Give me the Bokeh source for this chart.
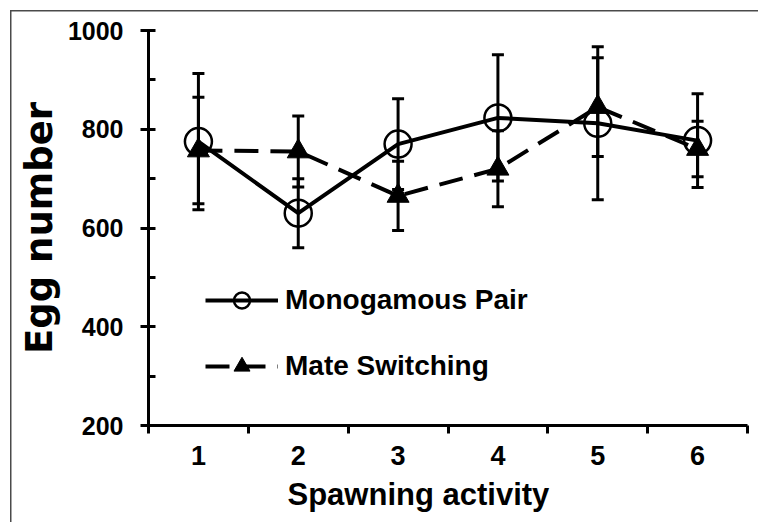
from bokeh.plotting import figure
from bokeh.models import (ColumnDataSource, Range1d, FixedTicker, Whisker, TeeHead,
                          Legend, LegendItem, Title)
from bokeh.embed import file_html
from bokeh.resources import INLINE

# ---- data ----
activity = [1, 2, 3, 4, 5, 6]
tick_labels = ["1", "2", "3", "4", "5", "6"]
mono_mean = [775, 630, 770, 823, 812, 777]
mono_err = [138, 70, 92, 128, 155, 95]
mate_mean = [757, 755, 665, 720, 845, 760]
mate_err = [108, 72, 70, 77, 100, 56]
y_ticks = [200, 400, 600, 800, 1000]
y_minor = [300, 500, 700, 900]

mono_src = ColumnDataSource(dict(
    x=activity, y=mono_mean,
    up=[m + e for m, e in zip(mono_mean, mono_err)],
    lo=[m - e for m, e in zip(mono_mean, mono_err)]))
mate_src = ColumnDataSource(dict(
    x=activity, y=mate_mean,
    up=[m + e for m, e in zip(mate_mean, mate_err)],
    lo=[m - e for m, e in zip(mate_mean, mate_err)]))

p = figure(width=758, height=522, output_backend="svg", toolbar_location=None,
           x_range=Range1d(0.5, 6.5), y_range=Range1d(200, 1000),
           min_border_left=148, min_border_right=11, min_border_top=30,
           min_border_bottom=97)
p.border_fill_color = None
p.background_fill_color = None
p.outline_line_color = None
p.grid.visible = False
p.styles = {"box-shadow": "inset 10px 10px 0 0 #ffffff, inset 11.5px 11.5px 0 0 #4a4a4a"}

FONT = "Liberation Sans"

# ---- x axis ----
xa = p.xaxis[0]
xa.ticker = FixedTicker(ticks=activity, minor_ticks=[0.5, 1.5, 2.5, 3.5, 4.5, 5.5, 6.5])
xa.major_label_overrides = {a: t for a, t in zip(activity, tick_labels)}
xa.major_tick_out = 0
xa.major_tick_in = 0
xa.minor_tick_out = 8
xa.minor_tick_in = 0
xa.minor_tick_line_width = 3
xa.axis_line_width = 3
xa.major_label_text_font = FONT
xa.major_label_text_font_style = "bold"
xa.major_label_text_font_size = "27px"
xa.major_label_text_color = "black"
xa.major_label_standoff = 12

# ---- y axis ----
ya = p.yaxis[0]
ya.ticker = FixedTicker(ticks=y_ticks, minor_ticks=y_minor)
ya.major_tick_out = 8
ya.major_tick_in = 7
ya.minor_tick_out = 0
ya.minor_tick_in = 7
ya.major_tick_line_width = 3
ya.minor_tick_line_width = 3
ya.axis_line_width = 3
ya.major_label_text_font = FONT
ya.major_label_text_font_style = "bold"
ya.major_label_text_font_size = "25px"
ya.major_label_text_color = "black"
ya.major_label_standoff = 17
ya.axis_label = "Egg number"
ya.axis_label_text_font = "DejaVu Sans"
ya.axis_label_text_font_style = "bold"
ya.axis_label_text_font_size = "37px"
ya.axis_label_text_color = "black"
ya.axis_label_standoff = 4

# ---- series ----
l1 = p.line("x", "y", source=mono_src, line_color="black", line_width=4)
l2 = p.line("x", "y", source=mate_src, line_color="black", line_width=4,
            line_dash="24 12")

for src in (mono_src, mate_src):
    p.add_layout(Whisker(source=src, base="x", upper="up", lower="lo",
                         line_color="black", line_width=3,
                         upper_head=TeeHead(size=12, line_width=3, line_color="black"),
                         lower_head=TeeHead(size=12, line_width=3, line_color="black")))

s1 = p.scatter("x", "y", source=mono_src, marker="circle", size=27,
               fill_color=None, line_color="black", line_width=2.5)
s2 = p.scatter("x", "y", source=mate_src, marker="triangle", size=22,
               fill_color="black", line_color="black", line_width=1)

legend = Legend(items=[LegendItem(label="Monogamous Pair", renderers=[l1, s1]),
                       LegendItem(label="Mate Switching", renderers=[l2, s2])],
                location=(57, 39), glyph_width=73, glyph_height=40,
                label_height=40, spacing=26, padding=0, margin=0,
                label_standoff=7, border_line_color=None,
                background_fill_alpha=0,
                label_text_font=FONT, label_text_font_style="bold",
                label_text_font_size="28px", label_text_color="black")
p.add_layout(legend)

# x-axis title, left-aligned so it sits slightly left of centre as in the reference
p.add_layout(Title(text="Spawning activity", align="left", offset=139,
                   text_font=FONT, text_font_style="bold",
                   text_font_size="31px", text_color="black", standoff=14), "below")

open("out.html", "w").write(file_html(p, INLINE))
